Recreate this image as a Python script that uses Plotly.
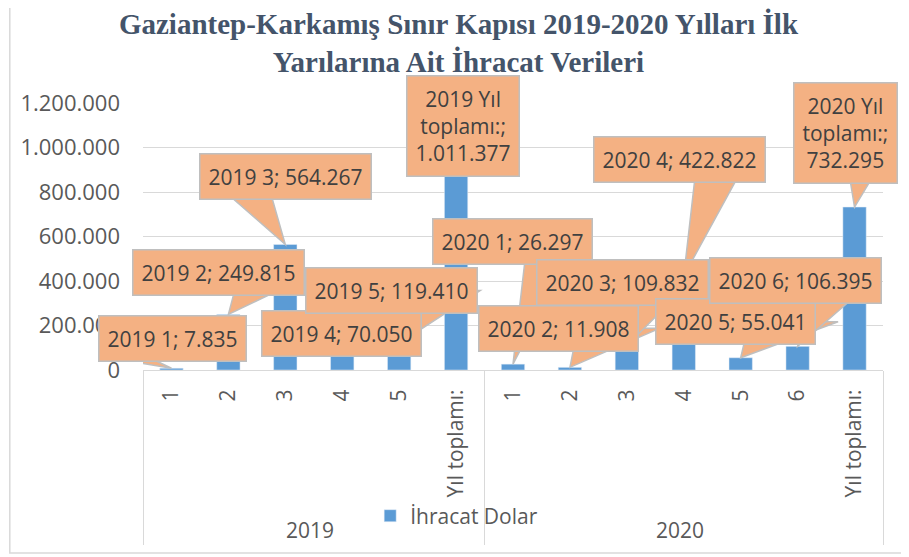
import plotly.graph_objects as go

# data
years = ["2019"] * 6 + ["2020"] * 7
# zero-width space keeps the two "Yıl toplamı:" columns apart in the category order;
# leading no-break spaces give the year row the same depth as in the original
months = ["1", "2", "3", "4", "5", "\u00a0\u00a0Yıl toplamı:",
          "1", "2", "3", "4", "5", "6", "\u00a0\u00a0Yıl toplamı:\u200b"]
export_usd = [7835, 249815, 564267, 70050, 119410, 1011377,
              26297, 11908, 109832, 422822, 55041, 106395, 732295]

# callout placement (pixels): label centre relative to bar top,
# and where the pointer leaves the label (relative to label centre)
callout_dx = [1, -10, 0, -1, -8, 7, -1, -11, -4, -4, -5, -2, -9]
callout_dy = [-30, -42, -68, -21, -53, -19, -123, -39, -63, -116, -36, -66, -74]
pointer_dx = [-45, 37, -35, 19, 39, 0, 34, 36, 27, 36, 30, 35, 21]

ORANGE = "#F4B183"
EDGE = "#BFBFBF"
HALF_BOX = 19   # half height of a one-line label box
HALF_BASE = 21  # half width of the pointer where it meets the box


def tr(v):
    return f"{v:,}".replace(",", ".")


def callout_text(year, month, v):
    if "Yıl" in month:
        return f"{year} Yıl<br>toplamı:;<br>{tr(v)}"
    return f"{year} {month}; {tr(v)}"


fig = go.Figure()

fig.add_trace(go.Bar(
    x=[years, months],
    y=export_usd,
    name="İhracat Dolar",
    marker=dict(color="#5B9BD5"),
    width=0.41,
    showlegend=True
))

for i, (yr, mo, v) in enumerate(zip(years, months, export_usd)):
    dx, dy = callout_dx[i], callout_dy[i]
    h = -dy
    if h - HALF_BOX > 4:
        # wedge from bar top, widening to the box edge, continued to box centre
        k = h / (h - HALF_BOX)
        xl = (dx + pointer_dx[i] - HALF_BASE) * k
        xr = (dx + pointer_dx[i] + HALF_BASE) * k
        fig.add_shape(
            type="path", xref="x", yref="y", xsizemode="pixel", ysizemode="pixel",
            xanchor=i, yanchor=v,
            path=f"M0,0 L{xl:.1f},{h} L{xr:.1f},{h} Z",
            fillcolor=ORANGE, line=dict(color=EDGE, width=1.5), layer="above"
        )
    fig.add_annotation(
        x=i, y=v, xref="x", yref="y",
        text=callout_text(yr, mo, v),
        showarrow=False, xshift=dx, yshift=h,
        xanchor="center", yanchor="middle",
        bgcolor=ORANGE, bordercolor=EDGE, borderwidth=1.5,
        borderpad=8,
        font=dict(family="Open Sans", size=21, color="#404040")
    )

# chart-area border
fig.add_shape(type="rect", xref="paper", yref="paper",
              x0=-0.18, x1=1.05, y0=-0.685, y1=1.5,
              line=dict(color="#D9D9D9", width=1.5), layer="below")

fig.update_layout(
    width=901, height=549,
    margin=dict(l=135, r=26, t=95, b=187),
    paper_bgcolor="white", plot_bgcolor="white",
    separators=",.",
    title=dict(
        text="Gaziantep-Karkamış Sınır Kapısı 2019-2020 Yılları İlk<br>Yarılarına Ait İhracat Verileri",
        x=0.5, xref="container", xanchor="center", y=0.952, yanchor="top",
        font=dict(family="Liberation Serif", size=29, color="#44546A", weight="bold")
    ),
    font=dict(family="Open Sans", size=21, color="#595959"),
    legend=dict(orientation="h", x=0.307, xanchor="left", y=-0.547, yanchor="middle",
                font=dict(size=21, color="#595959"), bgcolor="rgba(0,0,0,0)"),
    xaxis=dict(
        type="multicategory", range=[-0.5, 12.5], autorange=False, automargin=False,
        tickangle=-90, showline=True, linecolor="#D9D9D9",
        linewidth=1, showgrid=False, ticks="", showdividers=True,
        dividercolor="#D9D9D9", dividerwidth=1, ticklabelstandoff=10,
        tickfont=dict(size=21, color="#595959")
    ),
    yaxis=dict(
        range=[0, 1200000], autorange=False, automargin=False,
        tickvals=[0, 200000, 400000, 600000, 800000, 1000000, 1200000],
        tickformat=",d", gridcolor="#D9D9D9", gridwidth=1, zeroline=False,
        showline=False, ticks="", ticklabelstandoff=22,
        tickfont=dict(size=22, color="#595959")
    )
)

fig.write_html("out.html")
